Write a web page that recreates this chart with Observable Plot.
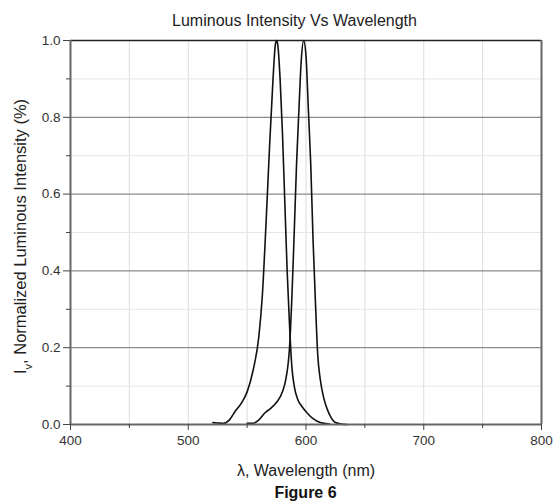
<!DOCTYPE html>
<html>
<head>
<meta charset="utf-8">
<script src="https://cdn.jsdelivr.net/npm/d3@7"></script>
<script src="https://cdn.jsdelivr.net/npm/@observablehq/plot@0.6"></script>
<style>
  body { margin: 0; background: #fff; font-family: "Liberation Sans", Arial, sans-serif; }
  #wrap { width: 555px; }
  .title { height: 27px; padding-top: 7px; line-height: 28px; font-size: 16px; color: #222; text-align: center; padding-left: 34px; width: 521px; white-space: nowrap; }
  .caption { height: 23px; padding-top: 2px; line-height: 23px; font-size: 16px; font-weight: bold; color: #111; text-align: center; padding-left: 70px; width: 471px; }
  svg { display: block; overflow: visible; }
</style>
</head>
<body>
<div id="wrap">
  <div class="title">Luminous Intensity Vs Wavelength</div>
  <div id="chart"></div>
  <div class="caption">Figure 6</div>
</div>
<script>
// Series 1 (peak ~575 nm)
const wavelength1 = [521,525,530,535,540,545,550,555,560,563,566,569,572,574,575,576,578,580,582,584,586,588,590,593,597,601,606,612,620];
const intensity1  = [0.005,0.004,0.003,0.012,0.035,0.055,0.085,0.14,0.23,0.34,0.52,0.72,0.9,0.99,1.0,0.99,0.9,0.76,0.58,0.4,0.26,0.15,0.1,0.065,0.045,0.03,0.015,0.005,0.001];
// Series 2 (peak ~598 nm)
const wavelength2 = [550,555,560,565,570,575,580,583,586,588,590,592,594,596,598,600,602,604,606,608,610,612,615,618,621,625,630,635];
const intensity2  = [0.003,0.003,0.012,0.03,0.042,0.058,0.085,0.12,0.2,0.33,0.5,0.68,0.82,0.95,1.0,0.96,0.82,0.68,0.48,0.32,0.18,0.12,0.07,0.04,0.02,0.005,0.001,0.0];

const xTicks = [400,500,600,700,800];
const xMinorTicks = [450,550,650,750];
const xGrid = [450,500,550,600,650,700,750];
const yTicks = [0,0.2,0.4,0.6,0.8,1.0];
const yMajorGrid = [0.2,0.4,0.6,0.8];
const yMinorTicks = [0.1,0.3,0.5,0.7,0.9];

const xLabel = "λ, Wavelength (nm)";
const yLabel = "Iv, Normalized Luminous Intensity (%)";

const s1 = wavelength1.map((w,i) => ({w, v: intensity1[i]}));
const s2 = wavelength2.map((w,i) => ({w, v: intensity2[i]}));

const chart = Plot.plot({
  width: 555,
  height: 445,
  marginTop: 6,
  marginLeft: 70,
  marginRight: 14,
  marginBottom: 55,
  style: { fontFamily: "Liberation Sans, Arial, sans-serif", fontSize: "13.5px", color: "#333", background: "#fff", overflow: "visible" },
  x: { domain: [400, 800] },
  y: { domain: [0, 1] },
  marks: [
    Plot.ruleX(xGrid, { stroke: "#dcdcdc", strokeWidth: 1 }),
    Plot.ruleY(yMinorTicks, { stroke: "#e6e6e6", strokeWidth: 1 }),
    Plot.ruleY(yMajorGrid, { stroke: "#6e6e6e", strokeWidth: 1 }),
    Plot.ruleY([1], { stroke: "#222", strokeWidth: 1.5 }),
    Plot.ruleX([800], { stroke: "#666", strokeWidth: 2 }),
    Plot.line(s1, { x: "w", y: "v", curve: "monotone-x", stroke: "#111", strokeWidth: 1.6 }),
    Plot.line(s2, { x: "w", y: "v", curve: "monotone-x", stroke: "#111", strokeWidth: 1.6 }),
    Plot.ruleY([0], { stroke: "#666", strokeWidth: 2 }),
    Plot.ruleX([400], { stroke: "#666", strokeWidth: 2 }),
    Plot.axisX({ ticks: xTicks, tickSize: 6, tickPadding: 5, label: null, tickFormat: d => String(d), stroke: "#444" }),
    Plot.axisX({ ticks: xMinorTicks, tickSize: 4, label: null, tickFormat: () => "", stroke: "#444" }),
    Plot.axisY({ ticks: yTicks, tickSize: 7, tickPadding: 3, label: null, tickFormat: d3.format(".1f"), stroke: "#444" }),
    Plot.axisY({ ticks: yMinorTicks, tickSize: 4, label: null, tickFormat: () => "", stroke: "#444" }),
    Plot.text([xLabel], { frameAnchor: "bottom", dy: 51, fontSize: 16, fill: "#222", textAnchor: "middle" }),
    Plot.text([yLabel], { frameAnchor: "left", dx: -50, dy: 4, rotate: -90, fontSize: 16.5, fill: "#222", textAnchor: "middle" })
  ]
});

document.getElementById("chart").appendChild(chart);

// subscript v in the y label
d3.select(chart).selectAll("text").filter(function() { return this.textContent === yLabel; }).each(function() {
  const t = d3.select(this);
  t.text(null);
  t.append("tspan").text("I");
  t.append("tspan").attr("baseline-shift", "sub").attr("font-size", "11px").text("v");
  t.append("tspan").text(", Normalized Luminous Intensity (%)");
});
</script>
</body>
</html>
